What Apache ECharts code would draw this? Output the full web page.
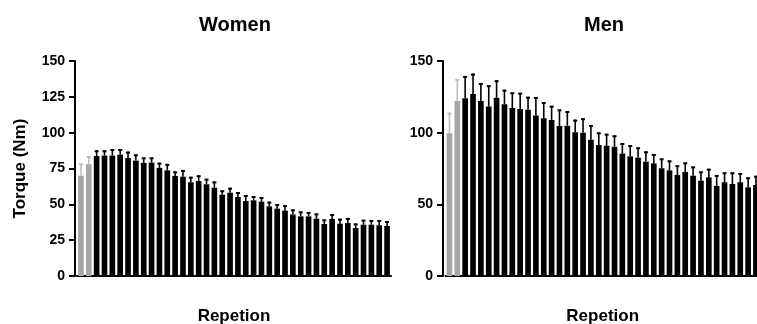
<!DOCTYPE html>
<html>
<head>
<meta charset="utf-8">
<script src="https://cdn.jsdelivr.net/npm/echarts@6/dist/echarts.min.js"></script>
<style>
html,body{margin:0;padding:0;background:#fff;}
#chart{width:757px;height:324px;}
</style>
</head>
<body>
<div id="chart"></div>
<script>
const categories = ['1','2','3','4','5','6','7','8','9','10','11','12','13','14','15','16','17','18','19','20',
  '21','22','23','24','25','26','27','28','29','30','31','32','33','34','35','36','37','38','39','40'];

const womenMean = [70, 78, 83.7, 84, 84, 84.7, 82.3, 80.5, 78.9, 79.1, 75.4, 73.7, 69.8, 69.3, 65.4, 66.3, 64, 61.6, 56.7, 58.1,
  55.1, 52.3, 52.8, 51.9, 48.6, 47, 45.6, 43, 41.6, 41.6, 40, 36.3, 39.8, 36.5, 37, 33.5, 35.8, 35.8, 35.4, 34.9];
const womenSD = [8.6, 5.7, 4.0, 3.7, 4.6, 3.9, 4.5, 4.4, 3.9, 3.7, 3.7, 4.5, 3.2, 4.7, 3.9, 4.0, 3.9, 4.4, 3.1, 3.5,
  3.5, 4.2, 3.0, 3.2, 3.3, 3.2, 3.9, 3.5, 3.5, 3.1, 3.7, 3.2, 3.5, 3.5, 3.5, 3.2, 3.5, 3.3, 3.7, 3.5];

const menMean = [99.6, 122.1, 124, 127, 122.1, 118.2, 124.4, 119.8, 117.2, 116.5, 116, 111.9, 110, 108.9, 104.7, 104.9, 100.3, 100, 95.1, 91.4,
  90.9, 90.2, 85.4, 83.5, 82.6, 79.8, 78.6, 75.2, 73.7, 70.5, 72.6, 70, 66.5, 68.8, 62.8, 65.4, 64.2, 65.4, 61.9, 63.5];
const menSD = [14.4, 15.4, 15.6, 14.2, 12.6, 14.9, 12.2, 10.2, 11, 11.4, 9.1, 13, 11.4, 9.9, 11.6, 10.2, 8.8, 10.1, 10.3, 8.9,
  8.4, 8, 7.4, 7.9, 7.2, 7.2, 6.5, 6.9, 7, 6.8, 6.7, 6.5, 6.5, 6.1, 7.7, 7, 8.2, 6.5, 7, 6.5];

const womenTicks = [0, 25, 50, 75, 100, 125, 150];
const menTicks = [0, 50, 100, 150];

const GRAY = '#a6a6a6';
const GRAY_ERR = '#bebebe';
const FONT = 'Liberation Sans, Arial, sans-serif';

function barData(means) {
  return means.map((v, i) => ({ value: v, itemStyle: { color: i < 2 ? GRAY : '#000' } }));
}
function errData(means, sds) {
  return means.map((v, i) => [i, v, sds[i]]);
}
function renderErr(params, api) {
  const i = api.value(0), m = api.value(1), s = api.value(2);
  const p0 = api.coord([i, m]);
  const p1 = api.coord([i, m + s]);
  const color = i < 2 ? GRAY_ERR : '#000';
  return {
    type: 'group',
    children: [
      { type: 'line', shape: { x1: p0[0], y1: p0[1], x2: p1[0], y2: p1[1] }, style: { stroke: color, lineWidth: 1.6 } },
      { type: 'line', shape: { x1: p1[0] - 2, y1: p1[1] + 1, x2: p1[0] + 2, y2: p1[1] + 1 }, style: { stroke: color, lineWidth: 2 } }
    ]
  };
}

function yAxisCfg(gridIndex, ticks, interval, offset, showName) {
  return {
    type: 'value', gridIndex: gridIndex, min: ticks[0], max: ticks[ticks.length - 1], interval: interval,
    offset: offset,
    name: showName ? 'Torque (Nm)' : '',
    nameLocation: 'middle', nameGap: 46,
    nameTextStyle: { fontFamily: FONT, fontWeight: 'bold', fontSize: 17, color: '#000' },
    axisLine: { show: true, lineStyle: { color: '#000', width: 2 } },
    axisTick: { show: true, length: 6, lineStyle: { color: '#000', width: 2 } },
    axisLabel: { fontFamily: FONT, fontWeight: 'bold', fontSize: 14, color: '#000', margin: 10 },
    splitLine: { show: false }
  };
}
function xAxisCfg(gridIndex) {
  return {
    type: 'category', gridIndex: gridIndex, data: categories,
    name: 'Repetion', nameLocation: 'middle', nameGap: 32,
    nameTextStyle: { fontFamily: FONT, fontWeight: 'bold', fontSize: 17, color: '#000' },
    axisLine: { show: true, lineStyle: { color: '#000', width: 2 } },
    axisTick: { show: false },
    axisLabel: { show: false },
    splitLine: { show: false }
  };
}

const chart = echarts.init(document.getElementById('chart'), null, { renderer: 'canvas' });
chart.setOption({
  animation: false,
  backgroundColor: '#fff',
  title: [
    { text: 'Women', left: 199, top: 15, padding: 0, textStyle: { fontFamily: FONT, fontWeight: 'bold', fontSize: 20, color: '#000' } },
    { text: 'Men', left: 584, top: 15, padding: 0, textStyle: { fontFamily: FONT, fontWeight: 'bold', fontSize: 20, color: '#000' } }
  ],
  grid: [
    { left: 77, width: 314, top: 61, bottom: 48, containLabel: false, outerBoundsMode: 'none' },
    { left: 445.5, width: 314.4, top: 61, bottom: 48, containLabel: false, outerBoundsMode: 'none' }
  ],
  xAxis: [xAxisCfg(0), xAxisCfg(1)],
  yAxis: [yAxisCfg(0, womenTicks, 25, 2, true), yAxisCfg(1, menTicks, 50, 2.5, false)],
  series: [
    { type: 'bar', xAxisIndex: 0, yAxisIndex: 0, data: barData(womenMean), barWidth: '72%' },
    { type: 'custom', xAxisIndex: 0, yAxisIndex: 0, data: errData(womenMean, womenSD), renderItem: renderErr, z: 3, encode: { x: 0, y: 1 } },
    { type: 'bar', xAxisIndex: 1, yAxisIndex: 1, data: barData(menMean), barWidth: '72%' },
    { type: 'custom', xAxisIndex: 1, yAxisIndex: 1, data: errData(menMean, menSD), renderItem: renderErr, z: 3, encode: { x: 0, y: 1 } }
  ]
});
</script>
</body>
</html>
